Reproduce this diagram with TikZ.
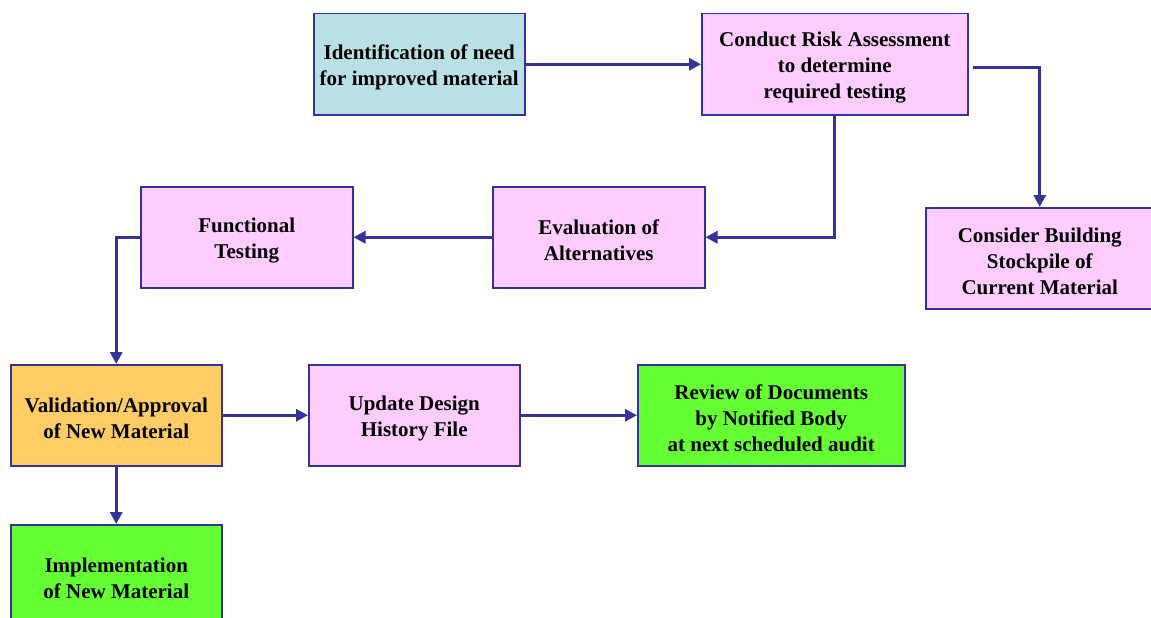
\documentclass[tikz,border=0pt]{standalone}
\usepackage{fontspec}
\setmainfont{Liberation Serif}
\usetikzlibrary{arrows.meta}
\definecolor{flowline}{HTML}{333399}
\definecolor{cyanfill}{HTML}{B9E0E4}
\definecolor{pinkfill}{HTML}{FFCCFF}
\definecolor{orangefill}{HTML}{FFCC66}
\definecolor{greenfill}{HTML}{66FF33}
% invisible strut on the first line, leaves more room above the text
\newcommand{\toppad}{\rule{0pt}{21pt}}
\begin{document}
\begin{tikzpicture}[x=1pt,y=-1pt,
  box/.style={draw=flowline, line width=1.5pt, inner sep=0pt, align=center,
    anchor=north west, minimum height=101pt,
    font=\fontsize{21}{26}\selectfont\bfseries},
  flow/.style={draw=flowline, line width=3pt, -{Triangle[length=12pt,width=12pt]}}]
\useasboundingbox (0,0) rectangle (1151,618);
\clip (0,0) rectangle (1151,618);

% process boxes
\node[box, fill=cyanfill, minimum width=211pt] (ident) at (313,13)
  {\toppad Identification of need\\for improved material};
\node[box, fill=pinkfill, minimum width=266pt] (risk) at (701,13)
  {\toppad Conduct Risk Assessment\\to determine\\required testing};
\node[box, fill=pinkfill, minimum width=228pt] (stock) at (925,207)
  {\toppad Consider Building\\Stockpile of\\Current Material};
\node[box, fill=pinkfill, minimum width=212pt] (eval) at (492,186)
  {\toppad Evaluation of\\Alternatives};
\node[box, fill=pinkfill, minimum width=212pt] (func) at (140,186)
  {\toppad Functional\\Testing};
\node[box, fill=orangefill, minimum width=211pt] (valid) at (10,364)
  {\toppad Validation/Approval\\of New Material};
\node[box, fill=pinkfill, minimum width=211pt] (update) at (308,364)
  {\toppad Update Design\\History File};
\node[box, fill=greenfill, minimum width=267pt] (review) at (637,364)
  {\toppad Review of Documents\\by Notified Body\\at next scheduled audit};
\node[box, fill=greenfill, minimum width=211pt] (impl) at (10,524)
  {\toppad Implementation\\of New Material};

% connectors
\draw[flow] (ident.east) -- (ident.east -| risk.west);
\draw[flow] ([xshift=4pt,yshift=-3pt]risk.east) -| (stock.north);
\draw[flow] (risk.south) |- (eval.east);
\draw[flow] (eval.west) -- (func.east);
\draw[flow] (func.west) -| (valid.north);
\draw[flow] (valid.east) -- (update.west);
\draw[flow] (update.east) -- (review.west);
\draw[flow] (valid.south) -- (impl.north);
\end{tikzpicture}
\end{document}
